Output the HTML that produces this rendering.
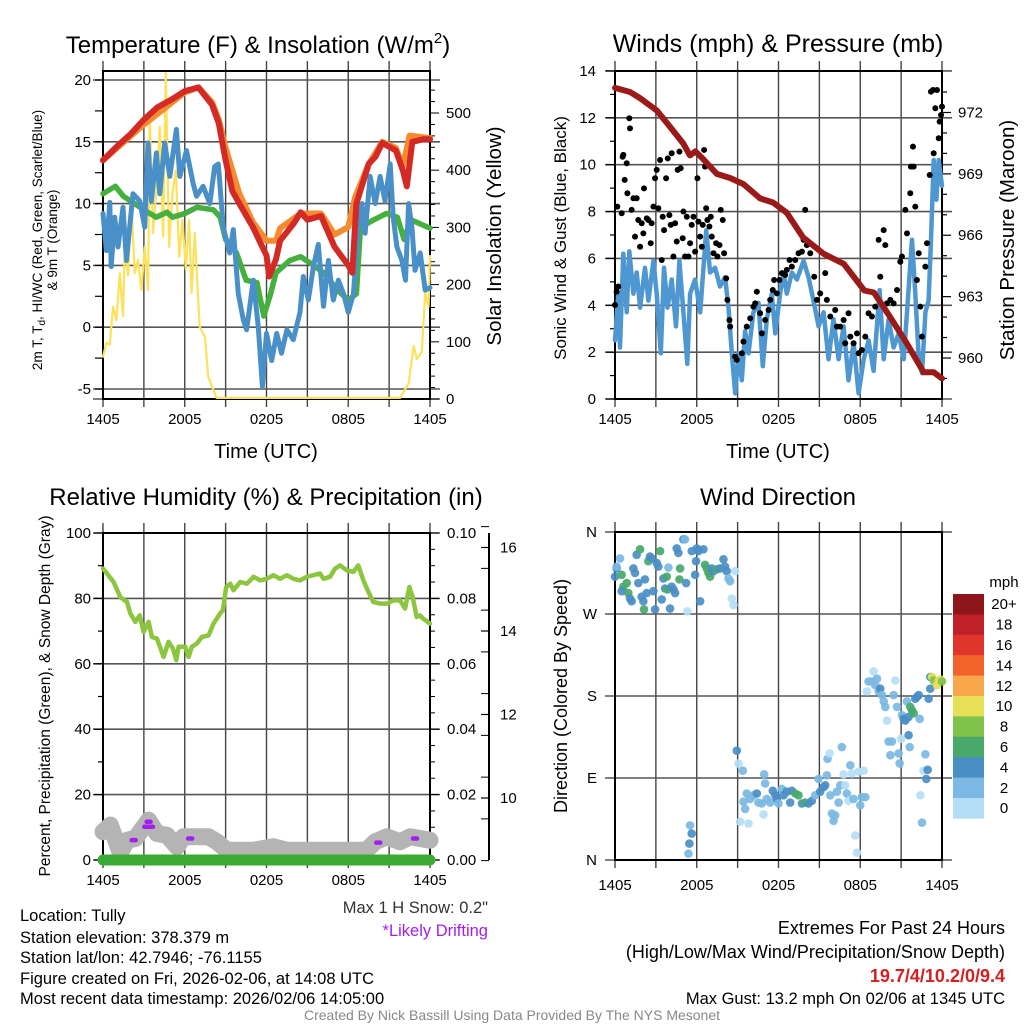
<!DOCTYPE html>
<html><head><meta charset="utf-8"><style>
html,body{margin:0;padding:0;background:#fff;}
svg{display:block;font-family:"Liberation Sans",sans-serif;}
</style></head><body>
<svg id="c" width="1024" height="1024" viewBox="0 0 1024 1024" xmlns="http://www.w3.org/2000/svg"></svg>
<script>
// ---------- Panel 1 data (hours since 1405 UTC) ----------
const redHours=[0,1,2,3,4,5,6,7,8,8.5,9,9.5,10,11,12,12.2,12.7,13,14,14.5,15,16,17,18,18.3,18.6,19.5,20,20.5,21,21.5,22,22.3,22.7,23.5,24];
const redTemp=[13.5,14.6,15.6,16.8,17.8,18.4,19.1,19.4,18.0,16.5,13.5,11.0,10.0,8.1,5.8,4.1,5.5,7.0,8.4,9.3,8.7,9.0,6.5,5.0,4.4,10.0,13.2,13.8,14.9,14.6,14.3,12.7,11.4,15.0,15.2,15.2];
const orangeHours=[0,3,6,7,8,8.5,9,10,11,12,12.7,13,14.5,16,17,18,18.5,19.5,20.5,21.5,22,22.5,24];
const orangeTemp=[13.5,16.4,19.0,19.4,18.2,16.8,14.5,10.8,8.5,7.0,7.0,8.0,9.2,9.2,7.5,8.1,10.5,13.2,15.0,14.5,13.0,15.5,15.3];
const greenHours=[0,0.9,1.5,3,3.9,4.7,5.1,6,6.9,8.1,8.6,9,9.8,10.5,11.3,11.8,12.3,12.7,13.7,14.5,15.2,16.2,17.2,18,18.6,18.9,19.9,20.8,21.6,22.1,22.6,24];
const greenDew=[10.8,11.4,10.6,9.5,8.9,9.3,8.9,9.2,9.7,9.5,8.9,7.1,6.0,3.8,3.6,0.9,2.7,4.4,5.4,5.7,5.2,4.4,3.0,2.2,2.7,8.1,8.7,9.2,8.9,7.1,8.7,8.0];
const blueHours=[0,0.25,0.5,0.6,0.86,1.1,1.47,1.72,2.2,2.7,3.06,3.3,3.55,3.92,4.17,4.53,4.9,5.39,5.64,6.13,6.62,6.86,7.35,7.84,8.2,8.46,8.82,9.3,9.56,9.93,10.3,10.54,11.03,11.4,11.7,12.0,12.38,12.75,13.1,13.5,13.97,14.46,14.7,15.07,15.44,15.8,16.18,16.54,16.9,17.28,17.65,18.0,18.38,18.75,19.0,19.24,19.6,19.98,20.34,20.7,21.08,21.3,21.57,21.94,22.2,22.43,22.67,22.9,23.28,23.65,24];
const blueWC=[9.2,6.2,10.1,4.9,8.9,6.5,9.7,5.4,10.8,10.2,8.1,14.9,10.2,14.1,10.8,14.9,12.2,16.0,12.2,14.3,11.6,10.6,11.4,10.0,13.0,13.2,8.1,6.0,7.9,2.7,0.6,-0.2,3.8,0.0,-4.8,-0.5,-2.7,-0.5,-2.1,-0.2,-1.0,1.2,4.1,2.2,4.9,6.7,1.7,5.4,2.2,3.8,2.7,1.2,2.7,8.1,10.0,7.6,12.2,10.0,12.2,10.2,13.2,8.9,6.5,5.4,3.8,10.0,8.1,4.6,6.0,3.0,3.2];
const solarHours=[0,0.25,0.49,0.74,0.98,1.23,1.47,1.6,1.84,2.08,2.33,2.57,2.82,3.06,3.31,3.43,3.68,3.92,4.17,4.41,4.61,4.85,5.1,5.34,5.59,5.83,6.08,6.32,6.5,6.74,7.1,7.48,7.72,8.33,21.8,22.43,22.8,23.04,23.4,23.65,23.9,24];
const solarWm2=[74,98,95,161,138,220,145,266,216,348,220,243,190,266,190,500,290,366,476,284,570,266,360,400,249,313,227,313,185,290,126,109,39,2,2,27,93,70,82,185,162,250];
const tempTicks=[-5,0,5,10,15,20];
const solarTicks=[0,100,200,300,400,500];
const timeLabels=["1405","2005","0205","0805","1405"];
const timeLabelHours=[0,6,12,18,24];

// ---------- Panel 2 data ----------
const presHours=[0,1.1,1.84,3.06,4.04,5.0,5.5,5.9,6.5,7.47,8.45,9.43,10.65,11.6,12.6,13.8,15.3,16.8,18.3,19.0,20.2,21.43,22.65,23.4,24];
const presMb=[973.2,973.0,972.7,972.1,971.3,970.5,969.9,970.1,969.7,969.0,968.8,968.5,967.8,967.6,967.1,965.9,965.1,964.6,963.3,963.2,962.0,960.7,959.3,959.3,959.0];
const windHours=[0,0.24,0.37,0.61,0.86,1.05,1.35,1.59,1.84,2.2,2.45,2.82,3.06,3.36,3.6,3.85,4.16,4.48,4.73,5.02,5.31,5.51,5.88,6.25,6.69,6.98,7.35,7.71,8.08,8.33,8.57,8.82,9.06,9.31,9.55,9.8,10.16,10.53,10.85,11.14,11.51,11.76,12.12,12.37,12.61,12.98,13.35,13.84,14.2,14.57,14.94,15.31,15.67,16.04,16.41,16.78,17.14,17.51,17.88,18.25,18.61,18.98,19.42,19.72,20.08,20.45,20.82,21.19,21.43,21.8,22.04,22.29,22.53,22.78,23.02,23.19,23.39,23.59,23.76,24];
const windMph=[2.5,4.5,2.2,6.2,3.7,6.3,4.5,5.4,3.9,5.6,4.2,5.9,4.5,1.95,5.6,3.9,5.1,3.1,5.9,3.7,1.5,4.5,5.1,3.7,7.2,5.4,5.6,4.8,5.2,3.9,1.95,0.24,1.95,0.8,2.9,1.95,3.7,4.1,1.4,3.4,4.5,2.8,4.5,5.4,4.5,5.4,5.1,5.9,5.2,4.2,3.1,3.7,1.7,3.4,1.7,3.1,0.8,2.4,0.24,1.7,2.5,1.2,4.65,1.7,3.4,2.2,2.8,1.7,3.7,6.8,4.5,1.8,1.1,3.7,4.2,6.8,10.2,8.5,10.2,9.1];
const gustHours=[0,.12,.17,.24,.49,.56,.61,.71,.86,.91,1.05,1.10,1.22,1.35,1.47,1.59,1.71,1.84,1.96,2.08,2.13,2.33,2.45,2.62,2.69,2.82,2.94,3.06,3.18,3.31,3.43,3.50,3.60,3.75,3.87,3.99,4.09,4.16,4.29,4.41,4.53,4.60,4.73,4.82,4.97,5.02,5.14,5.27,5.39,5.51,5.63,5.76,5.88,6.05,6.12,6.25,6.37,6.44,6.54,6.61,6.69,6.78,6.93,7.03,7.10,7.23,7.42,7.52,7.67,7.76,7.91,8.01,8.16,8.25,8.40,8.45,8.82,8.94,9.31,9.43,9.67,9.92,10.16,10.29,10.41,10.65,10.78,11.02,11.27,11.39,11.58,11.68,11.88,12.07,12.25,12.49,12.61,12.81,12.98,13.23,13.47,13.72,13.84,13.96,14.08,14.33,14.62,14.82,15.06,15.43,15.55,15.80,16.16,16.29,16.53,16.78,16.90,17.14,17.27,17.51,17.76,17.88,18.12,18.37,18.61,18.86,19.10,19.35,19.47,19.72,19.84,19.96,20.21,20.45,20.70,20.94,21.06,21.31,21.43,21.67,21.72,21.87,21.92,22.04,22.16,22.29,22.41,22.53,22.78,22.90,23.10,23.19,23.34,23.39,23.51,23.63,23.76,23.83,23.93,24.0];
const gustMph=[4.01,4.58,8.21,4.8,7.93,10.34,10.42,9.35,10.06,8.78,11.98,11.55,8.07,8.57,6.93,8.57,7.64,6.5,7.5,7.07,8.99,7.71,7.64,6.65,7.5,8.21,9.42,9.78,8.14,10.2,5.93,7.78,7.21,9.42,10.27,7.85,7.43,10.49,6.08,7.5,6.72,9.78,10.56,9.85,6.86,8.0,6.08,7.78,6.08,6.65,7.43,7.78,6.29,9.42,7.57,6.93,6.5,7.43,10.63,9.92,8.14,7.64,7.36,7.78,6.93,6.22,6.65,6.08,6.57,8.07,7.64,6.22,5.15,4.23,3.37,3.09,1.81,1.67,1.95,2.45,3.09,3.44,3.94,4.08,4.58,3.66,2.8,3.37,3.8,4.23,4.65,5.08,4.51,5.08,5.37,5.29,5.51,5.93,5.65,5.93,6.22,6.29,6.79,8.07,6.57,6.22,5.22,4.23,4.51,5.37,4.23,3.52,3.8,3.09,3.09,3.37,2.38,3.66,2.66,2.38,2.8,1.95,2.09,2.66,3.66,3.52,3.94,6.79,5.22,7.21,6.57,4.08,4.23,4.08,4.65,5.86,6.08,8.07,7.07,8.78,9.92,10.77,9.92,8.21,5.08,6.22,3.94,2.66,5.65,6.65,9.56,13.12,13.19,10.49,12.41,13.19,11.13,11.84,12.12,12.48];
const windTicks=[0,2,4,6,8,10,12,14];
const presTicks=[960,963,966,969,972];

// ---------- Panel 3 data ----------
const rhHours=[0,.29,.78,1.27,1.76,2.0,2.37,2.69,2.98,3.35,3.59,3.96,4.45,4.81,5.13,5.38,5.55,6.04,6.28,6.52,6.89,7.26,7.75,8.11,8.6,8.8,9.04,9.34,9.58,10.07,10.56,11.05,11.53,12.02,12.51,13.0,13.49,13.98,14.47,14.96,15.44,15.93,16.18,16.67,17.03,17.4,17.89,18.38,18.74,19.11,19.48,19.84,20.33,20.82,21.31,21.8,22.17,22.48,22.73,23.02,23.26,23.51,24];
const rhPct=[89.1,87.6,85,80.4,78.9,75.4,72.8,74.8,69.8,72.8,68.2,67.7,62.1,66.7,64.7,61.1,65.2,65.2,62.1,65.2,66.2,68.2,68.7,72.3,75.4,76.4,83.5,84.5,82.5,85.0,84.5,86.6,85.5,86.0,87.1,86,87.1,86.0,85.5,86.6,87.1,87.6,86.0,86.6,89.1,90.1,88.6,88.1,90.1,85.5,82.0,78.9,78.4,78.4,79.4,79.4,76.9,83.5,80.4,74.3,74.8,73.8,72.3];
const snowHours=[0,.54,1.27,1.76,2.37,3.35,3.96,4.69,5.43,5.91,6.65,7.75,8.36,9.09,11.05,12.51,13.49,19.35,19.97,20.82,21.8,22.53,23.26,24];
const snowIn=[9.19,9.35,8.68,8.99,9.03,9.47,9.15,9.11,8.83,9.07,9.07,9.07,8.95,8.75,8.75,8.83,8.75,8.75,8.95,9.07,8.95,9.07,9.03,8.99];
const driftHours=[2.25,3.18,3.35,3.52,6.4,20.2,22.9];
const driftIn=[8.99,9.31,9.43,9.31,9.03,8.93,9.03];
const precipHours=[0,24];
const precipIn=[0,0];
const rhTicks=[0,20,40,60,80,100];
const precipTicks=["0.00","0.02","0.04","0.06","0.08","0.10"];
const snowTicks=[10,12,14,16];

// ---------- Panel 4 data ----------
const dirHours=[0,.12,.37,.12,.49,.61,.49,.86,.98,1.10,1.22,1.35,1.47,1.59,1.71,1.84,1.96,2.08,2.13,2.20,2.33,2.45,2.57,2.69,2.82,2.94,3.06,3.18,3.31,3.43,3.55,3.67,3.80,3.84,3.92,4.04,4.16,4.29,4.41,4.53,4.65,4.73,4.78,5.02,5.14,5.22,5.31,5.63,5.88,5.95,6.0,6.12,6.25,6.49,6.61,6.74,6.86,6.98,7.10,7.23,7.47,7.71,7.96,8.08,8.20,8.33,8.45,8.57,8.69,8.82,
5.51,5.63,5.46,5.39,
8.94,9.06,9.38,9.18,9.8,9.43,9.55,9.67,9.92,10.16,10.41,10.53,10.78,10.9,10.95,11.02,11.14,11.39,11.58,11.76,11.88,12.0,12.25,12.37,12.61,12.86,12.98,13.23,13.47,13.72,13.96,14.2,14.45,14.69,14.94,15.06,15.31,15.43,15.55,15.6,15.75,15.8,15.92,16.04,16.16,16.29,16.41,16.53,16.65,16.78,16.9,17.02,17.14,17.27,17.39,17.51,17.63,17.76,17.88,18.0,18.12,18.25,18.37,
18.49,18.61,18.86,18.98,19.1,19.23,19.35,19.47,19.59,19.72,19.84,19.96,20.08,20.21,20.33,20.45,20.57,20.70,20.82,20.89,20.99,21.06,21.19,21.31,21.43,21.55,21.55,21.63,21.67,21.8,21.92,22.04,22.16,22.29,22.36,22.41,22.53,22.65,22.78,22.85,22.95,23.02,23.14,23.14,23.27,23.39,23.63,23.76,23.88,24.0];
const dirDeg=[311,320,331,322,313,300,295,304,293,287,284,320,315,335,304,341,289,284,275,308,293,328,333,331,295,275,326,322,339,286,309,298,311,297,321,276,300,297,293,342,337,308,320,352,352,304,273,339,313,328,342,339,284,341,324,320,315,311,320,317,319,320,330,322,317,309,306,287,280,317,
38,29,18,7,
120,106,98,42,40,64,56,73,67,71,73,63,62,50,94,84,67,63,76,71,67,62,78,71,75,63,76,73,71,62,63,62,65,71,89,75,80,82,93,111,117,71,51,43,49,75,63,82,124,94,82,73,65,104,95,67,27,8,97,60,69,98,69,
185,196,196,207,192,199,185,188,181,174,168,153,130,115,130,181,197,168,117,106,133,159,155,153,174,157,137,124,168,164,161,177,179,181,155,71,41,98,116,89,99,177,188,201,201,197,192,197,198,196];
const dirSpeed=[5,5,3,3,7,7,5,7,7,5,5,5,5,5,5,7,5,5,7,5,5,7,5,5,5,5,5,5,7,5,5,5,7,7,3,5,5,5,5,5,5,7,7,5,3,5,1,5,5,5,5,5,5,5,7,7,7,7,5,5,7,5,5,5,5,3,3,1,1,1,
3,5,5,3,
5,1,3,1,1,3,3,3,3,3,5,3,3,1,3,3,3,3,5,5,5,3,3,5,5,5,5,7,7,5,7,5,5,3,3,5,5,5,3,3,1,3,3,3,3,3,3,3,3,1,1,3,1,3,1,3,1,1,1,3,3,1,3,
1,3,3,1,3,3,3,5,3,3,3,1,3,3,3,3,1,3,3,3,1,3,5,5,3,5,5,3,7,7,7,5,5,5,3,1,3,1,3,5,5,5,5,5,10,9,10,10,10,9];
const dirLabels=["N","W","S","E","N"];
const dirLabelDeg=[360,270,180,90,0];
const cbLabels=["20+","18","16","14","12","10","8","6","4","2","0"];
const cbColors=["#8e1519","#c0202a","#e0352b","#f26329","#f8a84a","#e6e056","#7fc24c","#48a96a","#4a8ec6","#7bb8e3","#b4def5"];

// ---------- helpers ----------
const svg=document.getElementById('c');
const NS='http://www.w3.org/2000/svg';
function mk(tag,attrs,parent){const e=document.createElementNS(NS,tag);for(const k in attrs)e.setAttribute(k,attrs[k]);(parent||svg).appendChild(e);return e;}
function txt(s,x,y,size,anchor,parent,extra){const t=mk('text',Object.assign({x:x,y:y,'font-size':size,'text-anchor':anchor||'middle',fill:'#000'},extra||{}),parent);t.textContent=s;return t;}
function line(x1,y1,x2,y2,stroke,w,parent){return mk('line',{x1:x1,y1:y1,x2:x2,y2:y2,stroke:stroke,'stroke-width':w},parent);}
function poly(xs,ys,fx,fy,stroke,w,parent){let d='';for(let i=0;i<xs.length;i++)d+=(i?'L':'M')+fx(xs[i]).toFixed(1)+' '+fy(ys[i]).toFixed(1);return mk('path',{d:d,fill:'none',stroke:stroke,'stroke-width':w,'stroke-linejoin':'round','stroke-linecap':'round'},parent);}
function speedColor(s){const idx=Math.min(10,Math.floor(s/2));return cbColors[10-idx];}
const TICK=15;

function frame(g,x0,x1,y0,y1,hgrid){
  for(let i=0;i<=8;i++){const x=x0+(x1-x0)*i/8;line(x,y0-10,x,y1+8,'#444',1.4,g);}
  hgrid.forEach(y=>line(x0-10,y,x1+10,y,'#555',1.6,g));
  mk('rect',{x:x0,y:y0,width:x1-x0,height:y1-y0,fill:'none',stroke:'#000','stroke-width':2},g);
}
function timeAxis(g,tx,y){
  for(let i=0;i<timeLabels.length;i++){
    const t=txt(timeLabels[i],tx(timeLabelHours[i]),y,TICK,'middle',g);
    
    
  }
}

// ================= PANEL 1 =================
(function(){
const g=mk('g',{});


const x0=103,x1=430,y0=71,y1=399;
const tx=h=>x0+h/24*(x1-x0);
const ty=v=>327.2-12.36*v;
const sy=v=>399-0.572*v;
frame(g,x0,x1,y0,y1,tempTicks.map(ty).concat([sy(0)]));
for(let v=-5;v<=20;v+=2.5)line(x0-8,ty(v),x0,ty(v),'#000',1.2,g);
for(let v=0;v<=540;v+=20)line(x1,sy(v),x1+(v%100===0?9:5),sy(v),'#000',1,g);
tempTicks.forEach(v=>{const t=txt(String(v),91,ty(v)+5,TICK,'end',g);});
solarTicks.forEach(v=>{const t=txt(String(v),446,sy(v)+5,TICK,'start',g);});
timeAxis(g,tx,424);
const sol=poly(solarHours,solarWm2,tx,sy,'#fde15a',2.2,g);


const gr=poly(greenHours,greenDew,tx,ty,'#45b03e',5.5,g);


const bl=poly(blueHours,blueWC,tx,ty,'#4a90c8',5,g);


const or=poly(orangeHours,orangeTemp,tx,ty,'#f58a2e',6,g);


const rd=poly(redHours,redTemp,tx,ty,'#d42a26',6,g);


const ti=txt('Temperature (F) & Insolation (W/m',258,53,24,'middle',g);
const sup=mk('tspan',{dy:-10,'font-size':15},ti);sup.textContent='2';
const cl=mk('tspan',{dy:10},ti);cl.textContent=')';


const xl=txt('Time (UTC)',266,458,20,'middle',g);


const yl=mk('text',{transform:'translate(42,240) rotate(-90)','font-size':13.5,'text-anchor':'middle'},g);
yl.innerHTML='2m T, T<tspan font-size="10" dy="3">d</tspan><tspan dy="-3">, HI/WC (Red, Green, Scarlet/Blue)</tspan>';


const yl2=txt('& 9m T (Orange)',0,0,13.5,'middle',g,{transform:'translate(57,240) rotate(-90)'});


const yr=txt('Solar Insolation (Yellow)',0,0,20.5,'middle',g,{transform:'translate(501,236) rotate(-90)'});


})();

// ================= PANEL 2 =================
(function(){
const g=mk('g',{});


const x0=615,x1=942,y0=71,y1=399;
const tx=h=>x0+h/24*(x1-x0);
const wy=v=>399-23.43*v;
const py=p=>358-20.46*(p-960);
frame(g,x0,x1,y0,y1,windTicks.map(wy));
for(let v=0;v<=14;v++)line(x0-(v%2?5:9),wy(v),x0,wy(v),'#000',1.2,g);
for(let p=959;p<=973;p++)line(x1,py(p),x1+(p%3===0?9:5),py(p),'#000',1.2,g);
windTicks.forEach(v=>{const t=txt(String(v),596,wy(v)+5,TICK,'end',g);});
presTicks.forEach(v=>{const t=txt(String(v),958,py(v)+5,TICK,'start',g);});
timeAxis(g,tx,424);
const wl=poly(windHours,windMph,tx,wy,'#4f97d1',4.5,g);


for(let i=0;i<gustHours.length;i++){
  const c=mk('circle',{cx:tx(gustHours[i]),cy:wy(gustMph[i]),r:3,fill:'#000'},g);
  
  
}
const pl=poly(presHours,presMb,tx,py,'#9a1a1a',6,g);


const ti=txt('Winds (mph) & Pressure (mb)',778,52,25,'middle',g);


const xl=txt('Time (UTC)',778,458,20,'middle',g);


const yl=txt('Sonic Wind & Gust (Blue, Black)',0,0,17,'middle',g,{transform:'translate(566,238) rotate(-90)'});


const yr=txt('Station Pressure (Maroon)',0,0,20.5,'middle',g,{transform:'translate(1014,240) rotate(-90)'});


})();

// ================= PANEL 3 =================
(function(){
const g=mk('g',{});


const x0=103,x1=430,y0=533,y1=860;
const tx=h=>x0+h/24*(x1-x0);
const ry=v=>860-3.27*v;
const prY=v=>860-3270*v;
const dy=v=>798-41.75*(v-10);
frame(g,x0,x1,y0,y1,rhTicks.map(ry));
for(let v=0;v<=100;v+=10)line(x0-(v%20?5:9),ry(v),x0,ry(v),'#000',1.2,g);
for(let v=0;v<=100;v+=5)line(x1,ry(v),x1+(v%20?5:9),ry(v),'#000',1,g);
rhTicks.forEach(v=>{const t=txt(String(v),91,ry(v)+5,TICK,'end',g);});
precipTicks.forEach(v=>{const t=txt(v,447,prY(parseFloat(v))+5,TICK,'start',g);});
line(489,533,489,860,'#000',2,g);
for(let v=8.5;v<=16.5;v+=1)line(481,dy(v),489,dy(v),'#000',1,g);
snowTicks.forEach(v=>{line(481,dy(v),489,dy(v),'#000',1.2,g);const t=txt(String(v),500,dy(v)+5,TICK,'start',g);});
timeAxis(g,tx,885);
const sn=poly(snowHours,snowIn,tx,dy,'#b4b4b4',17,g);


for(let i=0;i<driftHours.length;i++){
  const d=mk('line',{x1:tx(driftHours[i])-2,y1:dy(driftIn[i]),x2:tx(driftHours[i])+2,y2:dy(driftIn[i]),stroke:'#a020f0','stroke-width':4.5,'stroke-linecap':'round'},g);
  
  
}
const pp=poly(precipHours,precipIn,tx,prY,'#3aaa35',11,g);


const rl=poly(rhHours,rhPct,tx,ry,'#8cc63f',4.5,g);


const ti=txt('Relative Humidity (%) & Precipitation (in)',266,505,24,'middle',g);


const yl=txt('Percent, Precipitation (Green), & Snow Depth (Gray)',0,0,15.5,'middle',g,{transform:'translate(50,696) rotate(-90)'});


const ms=txt('Max 1 H Snow: 0.2"',488,913,16.5,'end',g,{fill:'#333'});


const dr=txt('*Likely Drifting',488,936,16.5,'end',g,{fill:'#a020f0'});


})();

// ================= PANEL 4 =================
(function(){
const g=mk('g',{});


const x0=615,x1=942,y0=532,y1=860;
const tx=h=>x0+h/24*(x1-x0);
const dy=d=>860-d*328/360;
frame(g,x0,x1,y0,y1,dirLabelDeg.map(dy));
dirLabelDeg.forEach((d,i)=>{const t=txt(dirLabels[i],597,dy(d)+5,TICK,'end',g);});
timeAxis(g,tx,890);
for(let i=0;i<dirHours.length;i++){
  const c=mk('circle',{cx:tx(dirHours[i]),cy:dy(dirDeg[i]),r:4.3,fill:speedColor(dirSpeed[i]),'fill-opacity':0.92},g);
  
  
}
const ti=txt('Wind Direction',778,505,24,'middle',g);


const yl=txt('Direction (Colored By Speed)',0,0,18,'middle',g,{transform:'translate(567,696) rotate(-90)'});


const cb=mk('g',{},g);


const cbTop=594,cbH=20.4;
cbColors.forEach((col,i)=>{
  const r=mk('rect',{x:953,y:cbTop+i*cbH,width:31,height:cbH+0.3,fill:col},cb);
  
  
  const t=txt(cbLabels[i],1004,cbTop+i*cbH+cbH/2+5,15,'middle',cb);
  
  
});
const u=txt('mph',1004,587,15,'middle',cb);


})();

// ================= FOOTER TEXT =================
(function(){
const g=mk('g',{});


const lines=['Location: Tully','Station elevation: 378.379 m','Station lat/lon: 42.7946; -76.1155','Figure created on Fri, 2026-02-06, at 14:08 UTC','Most recent data timestamp: 2026/02/06 14:05:00'];
const ys=[921,943,963,984,1004];
lines.forEach((s,i)=>{const t=txt(s,20,ys[i],16.5,'start',g);});
const g2=mk('g',{});


const a=txt('Extremes For Past 24 Hours',1005,934,18,'end',g2);
const b=txt('(High/Low/Max Wind/Precipitation/Snow Depth)',1005,958,18,'end',g2);
const c=txt('19.7/4/10.2/0/9.4',1005,982,18,'end',g2,{fill:'#d42020','font-weight':'bold'});
const d=txt('Max Gust: 13.2 mph On 02/06 at 1345 UTC',1005,1004,16.5,'end',g2);
const e=txt('Created By Nick Bassill Using Data Provided By The NYS Mesonet',512,1020,14,'middle',null,{fill:'#888'});


})();
</script>
</body></html>
